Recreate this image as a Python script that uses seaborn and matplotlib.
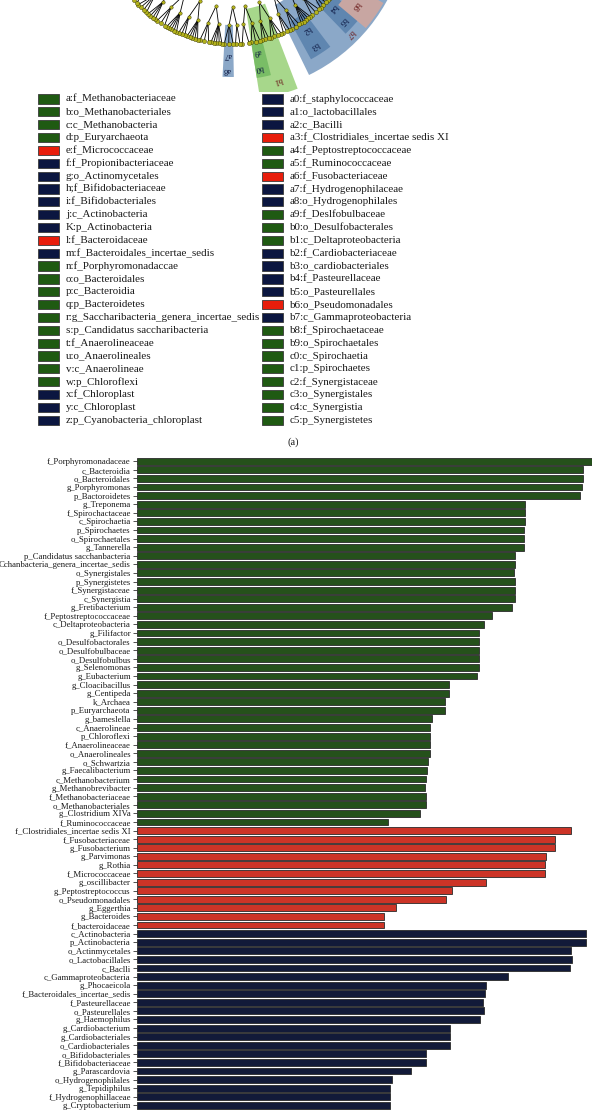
import numpy as np
import pandas as pd
import matplotlib
matplotlib.use("Agg")
import matplotlib.pyplot as plt
import seaborn as sns
from matplotlib.patches import Wedge, Rectangle

GREEN = "#1f5a12"
RED = "#e81d0b"
NAVY = "#0b1640"
COLORS = {"G": GREEN, "R": RED, "N": NAVY}

# ---------------- LDA bar data ----------------
bar_labels = [
    "f_Porphyromonadaceae", "c_Bacteroidia", "o_Bacteroidales", "g_Porphyromonas",
    "p_Bactoroidetes", "g_Treponema", "f_Spirochactaceae", "c_Spirochaetia",
    "p_Spirochaetes", "o_Spirochaetales", "g_Tannerella", "p_Candidatus sacchanbacteria",
    "Cchanbacteria_genera_incertae_sedis", "o_Synergistales", "p_Synergistetes",
    "f_Synergistaceae", "c_Synergistia", "g_Fretibacterium", "f_Peptostreptococcaceae",
    "c_Deltaproteobacteria", "g_Filifactor", "o_Desulfobactorales", "o_Desulfobulbaceae",
    "o_Desulfobulbus", "g_Selenomonas", "g_Eubacterium", "g_Cloacibacillus",
    "g_Centipeda", "k_Archaea", "p_Euryarchaeota", "g_bameslella", "c_Anaerolineae",
    "p_Chloroflexi", "f_Anaerolineaceae", "o_Anaerolineales", "o_Schwartzia",
    "g_Faecalibacterium", "c_Methanobacterium", "g_Methanobrevibacter",
    "f_Methanobacteriaceae", "o_Methanobacteriales", "g_Clostridium XIVa",
    "f_Ruminococcaceae",
    "f_Clostridiales_incertae sedis XI", "f_Fusobacteriaceae", "g_Fusobacterium",
    "g_Parvimonas", "g_Rothia", "f_Micrococcaceae", "g_oscillibacter",
    "g_Peptostreptococcus", "o_Pseudomonadales", "g_Eggerthia", "g_Bacteroides",
    "f_bacteroidaceae",
    "c_Actinobacteria", "p_Actinobacteria", "o_Actinmycetales", "o_Lactobacillales",
    "c_Baclli", "c_Gammaproteobacteria", "g_Phocaeicola", "f_Bacteroidales_incertae_sedis",
    "f_Pasteurellaceae", "o_Pasteurellales", "g_Haemophilus", "g_Cardiobacterium",
    "g_Cardiobacteriales", "o_Cardiobacteriales", "o_Bifidobacteriales",
    "f_Bifidobacteriaceae", "g_Parascardovia", "o_Hydrogenophilales", "g_Tepidiphilus",
    "f_Hydrogenophillaceae", "g_Cryptobacterium",
]
bar_scores = [
    4.55, 4.46, 4.46, 4.45, 4.43, 3.88, 3.88, 3.88, 3.87, 3.87, 3.87, 3.78,
    3.78, 3.77, 3.78, 3.78, 3.78, 3.75, 3.55, 3.47, 3.42, 3.42, 3.42, 3.42,
    3.42, 3.40, 3.12, 3.12, 3.08, 3.08, 2.95, 2.93, 2.93, 2.93, 2.93, 2.91,
    2.90, 2.89, 2.88, 2.89, 2.89, 2.83, 2.51,
    4.34, 4.18, 4.18, 4.09, 4.08, 4.08, 3.49, 3.15, 3.09, 2.59, 2.47, 2.47,
    4.49, 4.49, 4.34, 4.35, 4.33, 3.71, 3.49, 3.48, 3.46, 3.47, 3.43, 3.13,
    3.13, 3.13, 2.89, 2.89, 2.74, 2.55, 2.53, 2.53, 2.53,
]
bar_groups = ["G"] * 43 + ["R"] * 12 + ["N"] * 21

# ---------------- cladogram legend data ----------------
legend_left_labels = [
    "a:f_Methanobacteriaceae", "b:o_Methanobacteriales", "c:c_Methanobacteria",
    "d:p_Euryarchaeota", "e:f_Micrococcaceae", "f:f_Propionibacteriaceae",
    "g:o_Actinomycetales", "h;f_Bifidobacteriaceae", "i:f_Bifidobacteriales",
    "j:c_Actinobacteria", "K:p_Actinobacteria", "l:f_Bacteroidaceae",
    "m:f_Bacteroidales_incertae_sedis", "n:f_Porphyromonadaccae", "o:o_Bacteroidales",
    "p:c_Bacteroidia", "q:p_Bacteroidetes", "r:g_Saccharibacteria_genera_incertae_sedis",
    "s:p_Candidatus saccharibacteria", "t:f_Anaerolineaceae", "u:o_Anaerolineales",
    "v:c_Anaerolineae", "w:p_Chloroflexi", "x:f_Chloroplast", "y:c_Chloroplast",
    "z:p_Cyanobacteria_chloroplast",
]
legend_left_groups = list("GGGGRNNNNNNRNGGGGGGGGGGNNN")
legend_right_labels = [
    "a0:f_staphylococcaceae", "a1:o_lactobacillales", "a2:c_Bacilli",
    "a3:f_Clostridiales_incertae sedis XI", "a4:f_Peptostreptococcaceae",
    "a5:f_Ruminococcaceae", "a6:f_Fusobacteriaceae", "a7:f_Hydrogenophilaceae",
    "a8:o_Hydrogenophilales", "a9:f_Deslfobulbaceae", "b0:o_Desulfobacterales",
    "b1:c_Deltaproteobacteria", "b2:f_Cardiobacteriaceae", "b3:o_cardiobacteriales",
    "b4:f_Pasteurellaceae", "b5:o_Pasteurellales", "b6:o_Pseudomonadales",
    "b7:c_Gammaproteobacteria", "b8:f_Spirochaetaceae", "b9:o_Spirochaetales",
    "c0:c_Spirochaetia", "c1:p_Spirochaetes", "c2:f_Synergistaceae",
    "c3:o_Synergistales", "c4:c_Synergistia", "c5:p_Synergistetes",
]
legend_right_groups = list("NNNRGGRNNGGGNNNNRNGGGGGGGG")

# cladogram families: (start angle, end angle, number of tips)
clade_families = [
    (24, 29, 3), (30, 35, 4), (36, 40, 3), (41, 46, 4), (47, 51, 3), (52, 57, 5),
    (58, 62, 3), (63, 66, 3), (67, 72, 4), (73, 76, 3), (77, 81, 3), (82, 85, 2),
    (86, 88, 2), (89, 93, 3), (94, 99, 5), (100, 104, 3), (105, 110, 5), (111, 114, 3),
    (115, 120, 5), (121, 125, 3), (126, 130, 4), (131, 136, 4), (137, 142, 4),
    (143, 148, 4), (149, 154, 4),
]
# highlighted clades: (theta1, theta2, r_in, r_out, colour, label, label_angle, label_r)
clade_shades = [
    (14, 64, 100, 178, "#8ba8c8", "b7", 45, 168),
    (53, 61, 122, 165, "#5f86b0", None, 0, 0),
    (38, 46, 122, 165, "#5f86b0", None, 0, 0),
    (30, 40, 140, 176, "#c8a6a2", "b8", 36, 155),
    (69, 81, 95, 186, "#a7d78b", "b1", 74, 172),
    (76, 81, 128, 165, "#79bd66", None, 0, 0),
    (89, 93, 110, 162, "#8ba8c8", None, 0, 0),
]
clade_texts = [
    ("b2", 56, 138), ("b3", 57, 155), ("b4", 42, 138), ("b5", 43, 154),
    ("a9", 79, 139), ("b0", 79, 156), ("a7", 91.5, 140), ("a8", 91.5, 155),
]

sns.set_theme(style="white")
plt.rcParams["font.family"] = ["Liberation Serif", "DejaVu Serif"]

W, H = 592, 1110
fig = plt.figure(figsize=(W / 100, H / 100), dpi=100)
fig.patch.set_facecolor("white")


def pixel_axes(x0, y0, x1, y1):
    return fig.add_axes([x0 / W, 1 - y1 / H, (x1 - x0) / W, (y1 - y0) / H])


# ---------------- cladogram (bottom part visible) ----------------
axc = pixel_axes(0, 0, W, 92)
axc.set_xlim(0, W)
axc.set_ylim(92, 0)
axc.axis("off")
cx, cy, R = 231.0, -85.0, 129.0


def pol(a, r):
    t = np.deg2rad(a)
    return cx + r * np.cos(t), cy + r * np.sin(t)


for t1, t2, rin, rout, col, lab, la, lr in clade_shades:
    axc.add_patch(Wedge((cx, cy), rout, t1, t2, width=rout - rin, facecolor=col,
                        edgecolor="none", zorder=1))
    if lab:
        x, y = pol(la, lr)
        axc.text(x, y, lab, fontsize=6.5, color="#6a1a1a", ha="center", va="center",
                 rotation=-la - 90, zorder=5)
for lab, la, lr in clade_texts:
    x, y = pol(la, lr)
    axc.text(x, y, lab, fontsize=6, color="#0b1640", ha="center", va="center",
             rotation=-la - 90, zorder=5)

fam_nodes = []
for a1, a2, n in clade_families:
    mid = (a1 + a2) / 2
    fx, fy = pol(mid, 110)
    fam_nodes.append(mid)
    for a in np.linspace(a1, a2, n):
        tx, ty = pol(a, R)
        axc.plot([fx, tx], [fy, ty], color="black", lw=0.6, zorder=2)
        axc.scatter([tx], [ty], s=9, color="#b3b21c", edgecolor="#333300", lw=0.3, zorder=3)
    axc.scatter([fx], [fy], s=6, color="#b3b21c", edgecolor="#333300", lw=0.3, zorder=3)
for i in range(0, len(fam_nodes), 2):
    grp = fam_nodes[i:i + 2]
    om = np.mean(grp)
    ox, oy = pol(om, 92)
    for a in grp:
        fx, fy = pol(a, 110)
        axc.plot([ox, fx], [oy, fy], color="black", lw=0.6, zorder=2)
    axc.scatter([ox], [oy], s=6, color="#b3b21c", edgecolor="#333300", lw=0.3, zorder=3)

# ---------------- legend of the cladogram ----------------
axl = pixel_axes(0, 88, W, 434)
axl.set_xlim(0, W)
axl.set_ylim(434, 88)
axl.axis("off")
for col_x, labels, groups in [(38, legend_left_labels, legend_left_groups),
                              (262, legend_right_labels, legend_right_groups)]:
    for i, (lab, g) in enumerate(zip(labels, groups)):
        y = 99 + 12.85 * i
        axl.add_patch(Rectangle((col_x, y - 4.6), 21, 9.2, facecolor=COLORS[g],
                                edgecolor="#3a3a3a", lw=0.6))
        axl.text(col_x + 28, y, lab, fontsize=7.9, va="center", ha="left", color="#1a1a1a")

fig.text(293 / W, 1 - 442 / H, "(a)", fontsize=7.6, ha="center", va="center", color="#1a1a1a")

# ---------------- LDA bar chart ----------------
df = pd.DataFrame({"label": bar_labels, "score": bar_scores, "group": bar_groups})
axb = pixel_axes(137, 457, W, H)
sns.barplot(data=df, x="score", y="label", hue="group", palette=COLORS, order=bar_labels,
            dodge=False, legend=False, width=0.8, edgecolor="#2a2a2a", linewidth=0.6,
            ax=axb)
axb.set_xlim(0, 4.55)
axb.set_ylim(75.54, -0.5)
for s in axb.spines.values():
    s.set_visible(False)
axb.set_xticks([])
axb.set_xlabel("")
axb.set_ylabel("")
axb.tick_params(axis="y", left=True, length=3, width=0.6, color="#333333", pad=1.5,
                labelsize=6.3, labelcolor="#1a1a1a")

fig.savefig("out.png", dpi=100, facecolor="white")
